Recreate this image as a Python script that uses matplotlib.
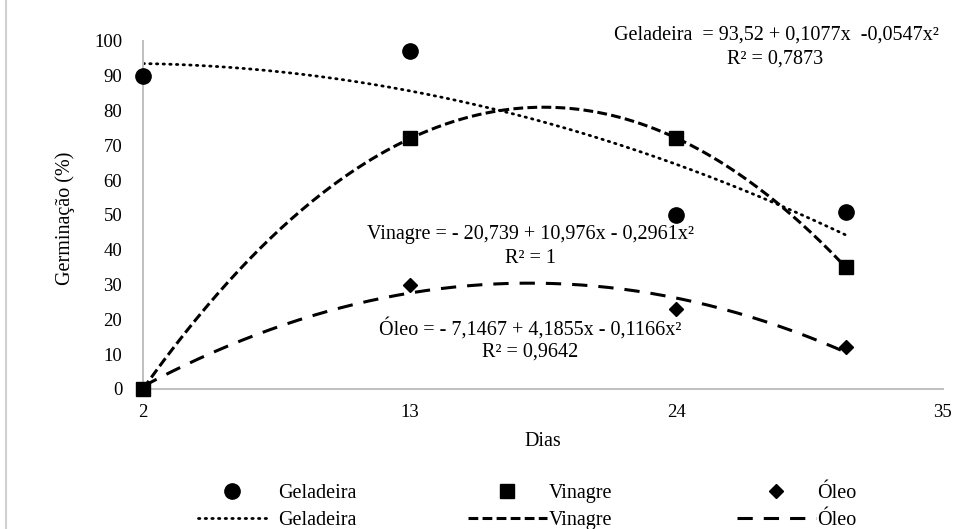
import matplotlib.pyplot as plt
from matplotlib.lines import Line2D
import numpy as np

plt.rcParams["font.family"] = ["Liberation Serif", "DejaVu Serif"]

dias = [2, 13, 24, 31]
geladeira = [90, 97, 50, 51]
vinagre = [0, 72, 72, 35]
oleo = [0, 30, 23, 12]

x_ticks = [2, 13, 24, 35]
y_ticks = list(range(0, 101, 10))

eq_geladeira = "Geladeira  = 93,52 + 0,1077x  -0,0547x²"
r2_geladeira = "R² = 0,7873"
eq_vinagre = "Vinagre = - 20,739 + 10,976x - 0,2961x²"
r2_vinagre = "R² = 1"
eq_oleo = "Óleo = - 7,1467 + 4,1855x - 0,1166x²"
r2_oleo = "R² = 0,9642"

fig = plt.figure(figsize=(9.8, 5.29), dpi=100)
ax = fig.add_axes([0.146, 0.2647, 0.816, 0.6578])

# Excel-like polynomial trendlines (order 2)
xs = np.linspace(dias[0], dias[-1], 200)
styles = {
    "Geladeira": dict(ls=(0, (0.5, 1.9)), lw=2.0, dash_capstyle="round"),
    "Vinagre": dict(ls=(0, (3.2, 1.4)), lw=2.2),
    "Óleo": dict(ls=(0, (5.0, 3.6)), lw=2.2),
}
series = [("Geladeira", geladeira, "o", 11), ("Vinagre", vinagre, "s", 10.5),
          ("Óleo", oleo, "D", 7.5)]

lines = []
for name, vals, mk, ms in series:
    coef = np.polyfit(dias, vals, 2)
    ln, = ax.plot(xs, np.polyval(coef, xs), color="black", **styles[name])
    pt, = ax.plot(dias, vals, mk, color="black", ms=ms, ls="none", clip_on=False, zorder=5)
    lines.append((pt, ln, name))

ax.set_xlim(2, 35)
ax.set_ylim(0, 100)
ax.set_xticks(x_ticks)
ax.set_yticks(y_ticks)
ax.tick_params(length=0, labelsize=13.5)
ax.tick_params(axis="y", pad=15)
ax.tick_params(axis="x", pad=11)
for s in ["top", "right"]:
    ax.spines[s].set_visible(False)
for s in ["left", "bottom"]:
    ax.spines[s].set_color("#bfbfbf")
    ax.spines[s].set_linewidth(1.4)

ax.set_xlabel("Dias", fontsize=14.5)
ax.set_ylabel("Germinação (%)", fontsize=14.5)
ax.xaxis.set_label_coords(0.5, -0.125)
ax.yaxis.set_label_coords(-0.085, 0.49)

txt = dict(ha="center", va="center", fontsize=14.5)
ax.text(28.15, 101.7, eq_geladeira, **txt)
ax.text(28.1, 94.8, r2_geladeira, **txt)
ax.text(17.97, 44.25, eq_vinagre, **txt)
ax.text(17.97, 37.4, r2_vinagre, **txt)
ax.text(17.97, 17.5, eq_oleo, **txt)
ax.text(17.97, 10.6, r2_oleo, **txt)

# legend: one column per treatment, markers on top, trendlines below
col_x = [198 / 980, 468 / 980, 737 / 980]
pads = [0.6, 0.1, 0.1]
for (pt, ln, name), cx, pad in zip(lines, col_x, pads):
    fig.legend([pt, ln], [name, name], loc="center left",
               bbox_to_anchor=(cx, 1 - 507 / 529), frameon=False,
               fontsize=14.5, handlelength=3.4 if pad > 0.3 else 3.9,
               handletextpad=pad, labelspacing=0.35, borderpad=0, borderaxespad=0)

# chart area border (left edge visible)
fig.add_artist(Line2D([6 / 980, 6 / 980], [0, 1], transform=fig.transFigure,
                      color="#d0d0d0", lw=1.5))

fig.savefig("out.png", dpi=100)
